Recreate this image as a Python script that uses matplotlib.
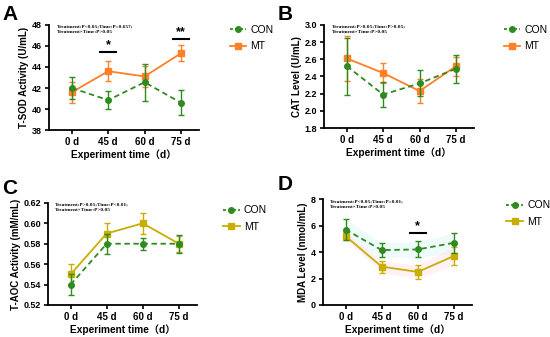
import matplotlib
matplotlib.use("Agg")
import matplotlib.pyplot as plt
from matplotlib.lines import Line2D
import numpy as np

categories = ["0 d", "45 d", "60 d", "75 d"]

sod_con = [42.0, 40.85, 42.55, 40.6]
sod_con_err = [1.05, 0.85, 1.75, 1.2]
sod_mt = [41.6, 43.6, 43.1, 45.3]
sod_mt_err = [1.0, 0.95, 1.0, 0.75]

cat_con = [2.52, 2.19, 2.32, 2.49]
cat_con_err = [0.33, 0.15, 0.15, 0.16]
cat_mt = [2.61, 2.44, 2.23, 2.52]
cat_mt_err = [0.26, 0.12, 0.14, 0.11]

aoc_con = [0.54, 0.58, 0.58, 0.58]
aoc_con_err = [0.01, 0.01, 0.006, 0.009]
aoc_mt = [0.55, 0.59, 0.60, 0.58]
aoc_mt_err = [0.01, 0.01, 0.01, 0.008]

mda_con = [5.7, 4.15, 4.2, 4.7]
mda_con_err = [0.8, 0.55, 0.6, 0.75]
mda_mt = [5.2, 2.9, 2.5, 3.7]
mda_mt_err = [0.3, 0.45, 0.5, 0.7]

ylabels = ["T-SOD Activity (U/mL)", "CAT Level (U/mL)",
           "T-AOC Activity (mM/mL)", "MDA Level (nmol/mL)"]
stats = ["Treatment:P<0.05;Time:P=0.657;\nTreatment×Time:P>0.05",
         "Treatment:P>0.05;Time:P>0.05;\nTreatment×Time:P>0.05",
         "Treatment:P>0.05;Time:P<0.01;\nTreatment×Time:P>0.05",
         "Treatment:P<0.05;Time:P=0.01;\nTreatment×Time:P>0.05"]
letters = ["A", "B", "C", "D"]

SANS = ["Liberation Sans", "Noto Sans CJK SC", "DejaVu Sans"]
plt.rcParams['font.family'] = SANS

GREEN = "#2f8a1f"
ORANGE = "#ff8026"
GOLD = "#c8ae00"

fig = plt.figure(figsize=(5.5, 3.37), dpi=100)
rects = [(0.089, 0.614, 0.273, 0.312),
         (0.589, 0.620, 0.273, 0.306),
         (0.087, 0.095, 0.271, 0.303),
         (0.587, 0.095, 0.271, 0.314)]
ylims = [(38, 48, 2), (1.8, 3.0, 0.2), (0.52, 0.62, 0.02), (0, 8, 2)]
data = [(sod_con, sod_con_err, sod_mt, sod_mt_err, ORANGE),
        (cat_con, cat_con_err, cat_mt, cat_mt_err, ORANGE),
        (aoc_con, aoc_con_err, aoc_mt, aoc_mt_err, GOLD),
        (mda_con, mda_con_err, mda_mt, mda_mt_err, GOLD)]
yfmt = ["{:.0f}", "{:.1f}", "{:.2f}", "{:.0f}"]
letter_pos = [(0.004, 0.985), (0.504, 0.985), (0.004, 0.47), (0.504, 0.48)]
legend_pos = [(0.412, 0.935), (0.91, 0.935), (0.4, 0.40), (0.915, 0.415)]

x = np.arange(len(categories))
for i in range(4):
    ax = fig.add_axes(rects[i])
    con, cone, mt, mte, mcol = data[i]
    if i == 3:
        ax.fill_between(x, np.array(con) - np.array(cone), np.array(con) + np.array(cone),
                        color="#bff0ee", alpha=0.25, lw=0)
        ax.fill_between(x, np.array(mt) - np.array(mte), np.array(mt) + np.array(mte),
                        color="#ffc8d8", alpha=0.25, lw=0)
    ax.errorbar(x, con, yerr=cone, color=GREEN, ecolor=GREEN, elinewidth=1.0,
                capsize=2.5, capthick=1.0, ls=(0, (3, 2)), lw=1.3,
                marker='o', ms=4, zorder=3)
    ax.errorbar(x, mt, yerr=mte, color=mcol, ecolor=mcol, elinewidth=1.0,
                capsize=2.5, capthick=1.0, ls='-', lw=1.3,
                marker='s', ms=4, zorder=2)
    lo, hi, st = ylims[i]
    ax.set_ylim(lo, hi)
    ticks = np.arange(lo, hi + st / 2, st)
    ax.set_yticks(ticks)
    ax.set_yticklabels([yfmt[i].format(t) for t in ticks], fontsize=6.5, fontweight='bold')
    ax.set_xlim(-0.63, 3.5)
    ax.set_xticks(x)
    ax.set_xticklabels(categories, fontsize=7, fontweight='bold')
    for s in ["top", "right"]:
        ax.spines[s].set_visible(False)
    for s in ["left", "bottom"]:
        ax.spines[s].set_linewidth(1.3)
    ax.tick_params(width=1.2, length=3, pad=2)
    ax.set_ylabel(ylabels[i], fontsize=7, fontweight='bold', labelpad=2)
    ax.set_xlabel("Experiment time（d）", fontsize=7.3, fontweight='bold', labelpad=1.5)
    ax.text(0.05, 1.0, stats[i], transform=ax.transAxes, fontsize=3.8,
            fontweight='bold', family="Liberation Serif", va='top', ha='left',
            linespacing=1.5)
    fig.text(letter_pos[i][0], letter_pos[i][1], letters[i], fontsize=15,
             fontweight='bold', va='top', ha='left')
    handles = [Line2D([], [], color=GREEN, ls=(0, (1.6, 1.2)), lw=1.3, marker='o', ms=4),
               Line2D([], [], color=mcol, ls='-', lw=1.3, marker='s', ms=4)]
    fig.legend(handles, ["CON", "MT"], loc='upper left', bbox_to_anchor=legend_pos[i],
               frameon=False, fontsize=7.5, handlelength=1.6, handletextpad=0.4,
               labelspacing=0.6, borderaxespad=0, borderpad=0.3)

axs = fig.axes
def sig(ax, xi, ybar, ystar, txt):
    ax.plot([xi - 0.22, xi + 0.22], [ybar, ybar], color='black', lw=1.5, clip_on=False)
    ax.text(xi, ystar, txt, ha='center', va='center', fontsize=9, fontweight='bold',
            clip_on=False)

sig(axs[0], 1, 45.4, 46.1, "*")
sig(axs[0], 3, 46.7, 47.3, "**")
sig(axs[3], 2, 5.43, 5.95, "*")

fig.savefig("out.png", dpi=100)
